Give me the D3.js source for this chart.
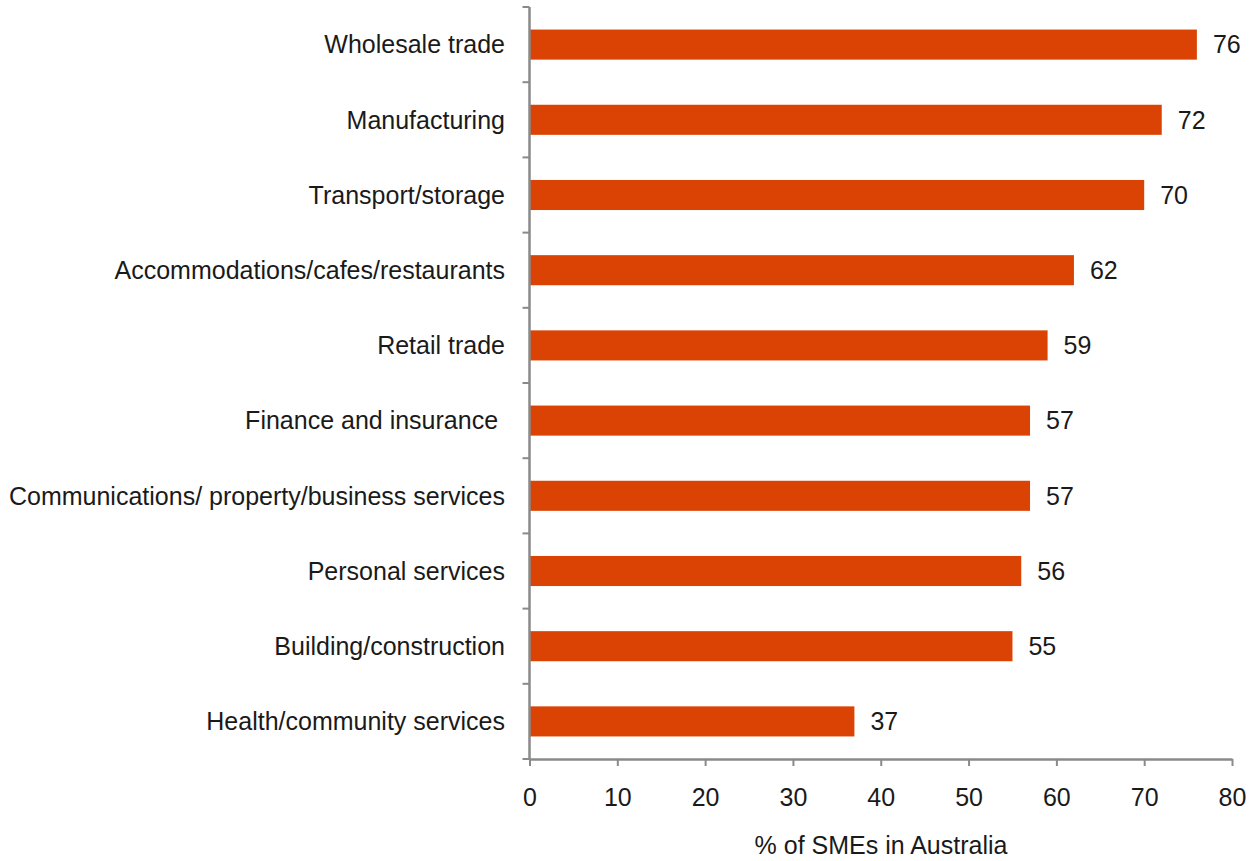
<!DOCTYPE html>
<html>
<head>
<meta charset="utf-8">
<script src="https://cdn.jsdelivr.net/npm/d3@7"></script>
<style>
  html, body { margin: 0; padding: 0; background: #fff; }
  svg { display: block; font-family: "Liberation Sans", Arial, sans-serif; }
</style>
</head>
<body>
<svg id="chart" width="1253" height="861"></svg>
<script>
// Share of SMEs by industry
const categories = [
  "Wholesale trade",
  "Manufacturing",
  "Transport/storage",
  "Accommodations/cafes/restaurants",
  "Retail trade",
  "Finance and insurance ",
  "Communications/ property/business services",
  "Personal services",
  "Building/construction",
  "Health/community services"
];
const values = [76, 72, 70, 62, 59, 57, 57, 56, 55, 37];
const xTicks = [0, 10, 20, 30, 40, 50, 60, 70, 80];
const xTitle = "% of SMEs in Australia";

(function () {
  const svg = d3.select("#chart");
  const plotLeft = 529.5, plotRight = 1232, plotTop = 7, plotBottom = 759;
  const fontSize = 25;

  const x = d3.scaleLinear().domain([0, 80]).range([plotLeft, plotRight]);
  const y = d3.scaleBand().domain(categories).range([plotTop, plotBottom]).paddingInner(0.6).paddingOuter(0.3);

  const axisColor = "#8a8a8a";
  const barColor = "#db4305";
  const textColor = "#1a1a1a";

  // bars
  svg.append("g").selectAll("rect")
    .data(categories)
    .join("rect")
    .attr("x", x(0))
    .attr("y", d => y(d))
    .attr("width", (d, i) => x(values[i]) - x(0))
    .attr("height", y.bandwidth())
    .attr("fill", barColor);

  // value labels
  svg.append("g").selectAll("text")
    .data(categories)
    .join("text")
    .attr("x", (d, i) => x(values[i]) + 16)
    .attr("y", d => y(d) + y.bandwidth() / 2)
    .attr("dy", "0.35em")
    .attr("font-size", fontSize)
    .attr("fill", textColor)
    .text((d, i) => values[i]);

  // category labels
  svg.append("g").selectAll("text")
    .data(categories)
    .join("text")
    .attr("x", 505)
    .attr("y", d => y(d) + y.bandwidth() / 2)
    .attr("dy", "0.35em")
    .attr("text-anchor", "end")
    .attr("font-size", fontSize)
    .attr("fill", textColor)
    .style("white-space", "pre")
    .text(d => d);

  // y axis line with boundary ticks
  const step = (plotBottom - plotTop) / categories.length;
  const yAxis = svg.append("g").attr("stroke", axisColor).attr("stroke-width", 2.5);
  yAxis.append("line").attr("x1", plotLeft).attr("x2", plotLeft).attr("y1", plotTop).attr("y2", plotBottom);
  yAxis.selectAll("line.tk")
    .data(d3.range(categories.length + 1))
    .join("line")
    .attr("class", "tk")
    .attr("x1", plotLeft - 7).attr("x2", plotLeft)
    .attr("y1", i => plotTop + i * step).attr("y2", i => plotTop + i * step)
    .attr("stroke-width", 2);

  // x axis
  const xAxis = svg.append("g")
    .attr("transform", `translate(0,${plotBottom})`)
    .call(d3.axisBottom(x).tickValues(xTicks).tickSize(7).tickPadding(22).tickSizeOuter(0));
  xAxis.select(".domain").attr("stroke", axisColor).attr("stroke-width", 2.5);
  xAxis.selectAll(".tick line").attr("stroke", axisColor).attr("stroke-width", 2);
  xAxis.selectAll(".tick text")
    .attr("font-size", fontSize)
    .attr("font-family", "\"Liberation Sans\", Arial, sans-serif")
    .attr("fill", textColor);

  // x axis title
  svg.append("text")
    .attr("x", 881)
    .attr("y", 854)
    .attr("text-anchor", "middle")
    .attr("font-size", fontSize)
    .attr("fill", textColor)
    .text(xTitle);
})();
</script>
</body>
</html>
